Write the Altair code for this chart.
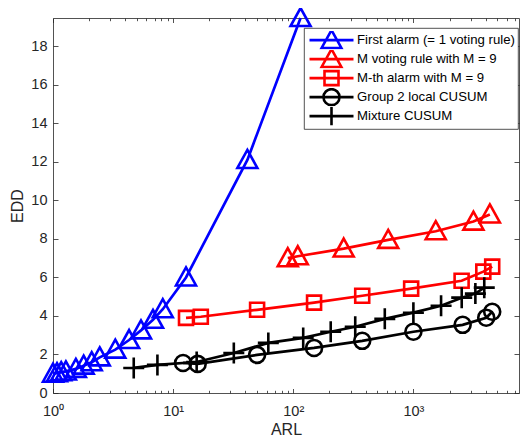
import altair as alt
import pandas as pd

# ---------------- data ----------------
series_names = [
    "First alarm (= 1 voting rule)",
    "M voting rule with M = 9",
    "M-th alarm with M = 9",
    "Group 2 local CUSUM",
    "Mixture CUSUM",
]
series_colors = ["#0000ff", "#ff0000", "#ff0000", "#000000", "#000000"]

first_arl = [1.0, 1.08, 1.17, 1.28, 1.55, 1.8, 2.1, 2.45, 3.3, 4.3, 5.4, 6.8, 8.2, 12.8, 41.5, 115]
first_edd = [1.0, 1.03, 1.08, 1.12, 1.25, 1.42, 1.6, 1.85, 2.25, 2.75, 3.25, 3.8, 4.35, 6.0, 12.1, 19.47]

vote_arl = [90, 109, 263, 617, 1535, 3160, 4330]
vote_edd = [7.0, 7.1, 7.5, 7.95, 8.4, 8.9, 9.27]

mth_arl = [12.8, 17, 50, 149, 375, 958, 2520, 3820, 4530]
mth_edd = [3.9, 3.96, 4.32, 4.69, 5.05, 5.42, 5.83, 6.3, 6.56]

local_arl = [12.1, 16.0, 50, 149, 375, 1000, 2570, 4040, 4530]
local_edd = [1.56, 1.51, 1.98, 2.34, 2.71, 3.18, 3.54, 3.91, 4.22]

mix_arl = [4.7, 7.4, 15.7, 32, 62, 121, 205, 328, 578, 1000, 1700, 2525, 3280, 3890]
mix_edd = [1.3, 1.46, 1.61, 2.08, 2.6, 2.86, 3.18, 3.44, 3.85, 4.17, 4.53, 4.95, 5.16, 5.47]

x_major = [1, 10, 100, 1000]
x_minor = [2, 3, 4, 5, 6, 7, 8, 9, 20, 30, 40, 50, 60, 70, 80, 90,
           200, 300, 400, 500, 600, 700, 800, 900, 2000, 3000, 4000, 5000, 6000, 7000]
y_ticks = [0, 2, 4, 6, 8, 10, 12, 14, 16, 18]

# ---------------- table ----------------
rows = []
for name, arl, edd in zip(series_names,
                          [first_arl, vote_arl, mth_arl, local_arl, mix_arl],
                          [first_edd, vote_edd, mth_edd, local_edd, mix_edd]):
    for a, e in zip(arl, edd):
        rows.append({"series": name, "arl": a, "edd": e})
df = pd.DataFrame(rows)

# ---------------- styling ----------------
FONT = "Liberation Sans"
AX = "#262626"
W, H = 466, 375

TRI = "M0,-1L1,0.8L-1,0.8Z"
SQR = "M-0.7,-0.7H0.7V0.7H-0.7Z"
CIR = "M0.8,0A0.8,0.8,0,1,1,-0.8,0A0.8,0.8,0,1,1,0.8,0Z"
PLS = "M-1.05,0H1.05M0,-1.05V1.05"
marker_paths = [TRI, TRI, SQR, CIR, PLS]
LINE = "M-2.2,0H2.2"
legend_paths = [p + LINE for p in marker_paths]

xscale = alt.Scale(type="log", domain=[1, 7570], nice=False)
yscale = alt.Scale(domain=[0, 19.47], nice=False, zero=False)

label_expr = ("datum.value == 1 ? '10\u2070' : datum.value == 10 ? '10\u00b9' : "
              "datum.value == 100 ? '10\u00b2' : '10\u00b3'")


def tick_axis(orient, offset, values, size, domain=False):
    return alt.Axis(orient=orient, offset=offset, values=values, labels=False,
                    domain=domain, domainColor=AX, domainWidth=0.8,
                    ticks=True, tickSize=size, tickColor=AX, tickWidth=0.8,
                    grid=False, title=None)


x_main = alt.Axis(orient="bottom", values=x_major, labelExpr=label_expr,
                  ticks=False, tickSize=0, labelPadding=11, labelFont=FONT,
                  labelFontSize=14.5, labelColor=AX, labelFlush=False,
                  labelOverlap=False, domain=True, domainColor=AX, domainWidth=0.8,
                  grid=False, title="ARL", titleFont=FONT, titleFontSize=16,
                  titleFontWeight="normal", titleColor=AX, titleY=36,
                  titleBaseline="middle")
y_main = alt.Axis(orient="left", values=y_ticks, ticks=False, tickSize=0,
                  labelPadding=6, labelFont=FONT, labelFontSize=14.5,
                  labelColor=AX, labelFlush=False, labelOverlap=False,
                  domain=True, domainColor=AX, domainWidth=0.8, grid=False,
                  title="EDD", titleFont=FONT, titleFontSize=16,
                  titleFontWeight="normal", titleColor=AX, titleX=-36,
                  titleY=H / 2, titleAngle=270, titleAlign="center",
                  titleBaseline="middle")

color_plain = alt.Color("series:N", scale=alt.Scale(domain=series_names, range=series_colors), legend=None)

lines = alt.Chart(df).mark_line(strokeWidth=2.7).encode(
    x=alt.X("arl:Q", scale=xscale, axis=x_main),
    y=alt.Y("edd:Q", scale=yscale, axis=y_main),
    color=color_plain,
    detail="series:N",
)

points = alt.Chart(df).mark_point(filled=False, size=400, strokeWidth=2.6, opacity=1).encode(
    x=alt.X("arl:Q", scale=xscale, axis=tick_axis("top", -H, x_major, 4.5)),
    y=alt.Y("edd:Q", scale=yscale, axis=tick_axis("right", -W, y_ticks, 5)),
    color=color_plain,
    shape=alt.Shape("series:N", scale=alt.Scale(domain=series_names, range=marker_paths), legend=None),
)

leg = alt.Legend(title=None, orient="none", legendX=251, legendY=10,
                 symbolSize=400, symbolStrokeWidth=2.6, symbolOpacity=1,
                 labelFont=FONT, labelFontSize=13.2, labelColor="#000000",
                 fillColor="#ffffff", strokeColor=AX,
                 padding=3, rowPadding=0, clipHeight=18.3,
                 symbolOffset=13, labelOffset=14, labelLimit=400)

legend_layer = alt.Chart(df).mark_point(filled=False, size=400, strokeWidth=2.6, opacity=0).encode(
    x=alt.X("arl:Q", scale=xscale, axis=tick_axis("top", -H, x_minor, 2.7)),
    y=alt.Y("edd:Q", scale=yscale, axis=tick_axis("left", -W, y_ticks, 5, domain=True)),
    color=alt.Color("series:N", scale=alt.Scale(domain=series_names, range=series_colors), legend=leg),
    shape=alt.Shape("series:N", scale=alt.Scale(domain=series_names, range=legend_paths), legend=leg),
)

top_major = alt.Chart(df).mark_point(opacity=0).encode(
    x=alt.X("arl:Q", scale=xscale, axis=tick_axis("bottom", -H, x_major, 4.5, domain=True)),
    y=alt.Y("edd:Q", scale=yscale, axis=None),
)
top_minor = alt.Chart(df).mark_point(opacity=0).encode(
    x=alt.X("arl:Q", scale=xscale, axis=tick_axis("bottom", -H, x_minor, 2.7)),
    y=alt.Y("edd:Q", scale=yscale, axis=None),
)

chart = alt.layer(lines, points, legend_layer, top_major, top_minor).resolve_scale(
    color="independent", shape="independent"
).resolve_axis(
    x="independent", y="independent"
).properties(
    width=W, height=H,
    autosize=alt.AutoSizeParams(type="none"),
    padding={"left": 45, "top": 10, "right": 1, "bottom": 44},
).configure_view(stroke=None).configure_legend(strokeWidth=0.8)

chart.save("out.html", embed_options={"renderer": "svg", "actions": False})
